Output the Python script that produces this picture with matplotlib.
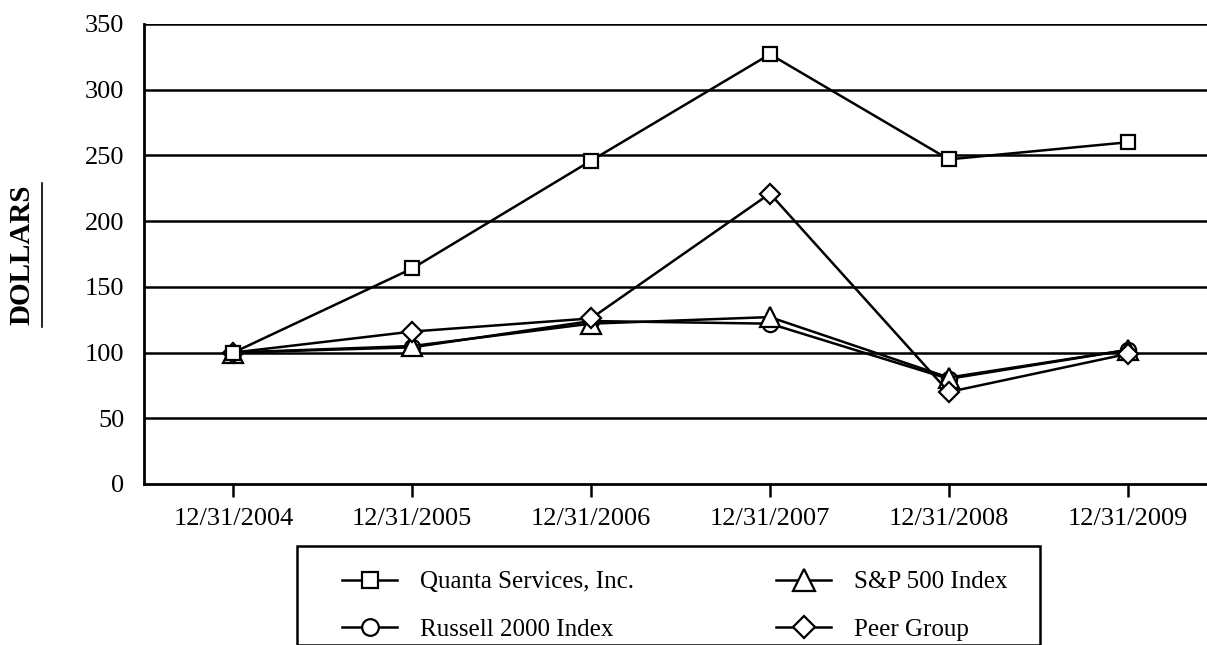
import matplotlib.pyplot as plt
from matplotlib.patches import Rectangle
from matplotlib.lines import Line2D

plt.rcParams['font.family'] = ['Liberation Serif', 'DejaVu Serif']

dates = ['12/31/2004', '12/31/2005', '12/31/2006', '12/31/2007', '12/31/2008', '12/31/2009']
quanta = [100, 164, 246, 327, 247, 260]
sp500 = [100, 105, 122, 127, 81, 102]
russell = [100, 104, 124, 122, 80, 102]
peer = [100, 116, 126, 221, 70, 99]
y_ticks = [0, 50, 100, 150, 200, 250, 300, 350]

fig = plt.figure(figsize=(12.07, 6.45), dpi=100)
ax = fig.add_axes([144/1207, 1 - 484/645, (1217 - 144)/1207, 460/645])

x = range(len(dates))
base = dict(color='black', lw=1.8, markerfacecolor='white',
            markeredgecolor='black', markeredgewidth=1.6)
ax.plot(x, russell, marker='o', markersize=11, **base)
ax.plot(x, sp500, marker='^', markersize=14.5, **base)
ax.plot(x, peer, marker='D', markersize=10, **base)
ax.plot(x, quanta, marker='s', markersize=10.5, **base)

ax.set_xlim(-0.5, 5.5)
ax.set_ylim(0, 350)
ax.set_yticks(y_ticks)
ax.set_xticks(list(x))
ax.set_xticklabels(dates)
for v in y_ticks[1:]:
    ax.axhline(v, color='black', lw=1.8, zorder=0)
for s in ['top', 'right']:
    ax.spines[s].set_visible(False)
for s in ['left', 'bottom']:
    ax.spines[s].set_linewidth(2)
ax.tick_params(axis='y', length=0, pad=14, labelsize=19)
ax.tick_params(axis='x', length=9, width=1.8, direction='out', pad=8, labelsize=19)

# y label, bold and underlined
fig.text(22/1207, 1 - 255/645, 'DOLLARS', rotation=90, fontsize=21, fontweight='bold',
         ha='center', va='center')
fig.add_artist(Line2D([42/1207, 42/1207], [1 - 183/645, 1 - 327/645], color='black',
                      lw=1.2, transform=fig.transFigure))

# legend box
fig.add_artist(Rectangle((297/1207, 0), (1040 - 297)/1207, (645 - 546)/645,
                         transform=fig.transFigure, fill=False, lw=1.8, ec='black'))
handles = [
    Line2D([], [], marker='s', markersize=12, **base),
    Line2D([], [], marker='o', markersize=12, **base),
    Line2D([], [], marker='^', markersize=16, **base),
    Line2D([], [], marker='D', markersize=11, **base),
]
labels = ['Quanta Services, Inc.', 'Russell 2000 Index', 'S&P 500 Index', 'Peer Group']
fig.legend(handles, labels, ncol=2, frameon=False, fontsize=18,
           loc='center left', bbox_to_anchor=(342/1207, 1 - 606/645), borderpad=0,
           borderaxespad=0, handlelength=2.2, columnspacing=5.7, labelspacing=1.0,
           handletextpad=0.9)

fig.savefig('out.png', dpi=100)
